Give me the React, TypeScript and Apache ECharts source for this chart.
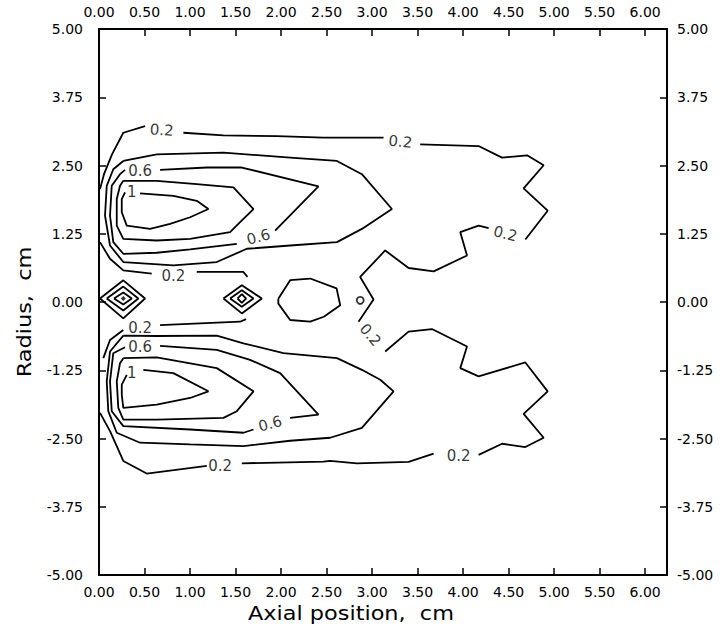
import React, { useEffect, useRef } from "react";
import * as echarts from "echarts";

// Tick labels
const X_TICKS = ["0.00", "0.50", "1.00", "1.50", "2.00", "2.50", "3.00", "3.50", "4.00", "4.50", "5.00", "5.50", "6.00"];
const Y_TICKS = ["-5.00", "-3.75", "-2.50", "-1.25", "0.00", "1.25", "2.50", "3.75", "5.00"];

// Contour level 0.2 (outer envelope), split where labels sit
const c02UpperLeft = [[0.011, 2.067], [0.055, 2.341], [0.143, 2.705], [0.267, 3.1], [0.506, 3.22]];
const c02UpperMid = [[0.927, 3.1], [1.367, 3.051], [1.954, 3.038], [2.466, 3.009], [3.126, 3.009]];
const c02UpperRight = [[3.529, 2.887], [4.17, 2.856], [4.428, 2.645], [4.703, 2.687], [4.885, 2.505], [4.665, 2.08], [4.929, 1.672], [4.684, 1.144]];
const c02Centre = [[4.281, 1.352], [4.17, 1.399], [3.969, 1.279], [4.043, 0.852], [3.676, 0.561], [3.401, 0.623], [3.144, 0.944], [2.869, 0.459], [3.016, 0.046], [2.851, -0.361]];
const c02LowerRight = [[3.144, -0.907], [3.401, -0.543], [3.658, -0.495], [4.043, -0.816], [3.969, -1.211], [4.17, -1.362], [4.684, -1.107], [4.929, -1.636], [4.665, -2.049], [4.885, -2.486], [4.684, -2.656], [4.428, -2.596], [4.17, -2.801]];
const c02LowerMid = [[3.676, -2.778], [3.401, -2.929], [2.833, -2.954], [2.54, -2.911], [2.466, -2.924], [1.569, -2.954]];
const c02LowerLeft = [[1.184, -3.002], [0.524, -3.142], [0.267, -2.911], [0.121, -2.364], [0.011, -2.031]];

// Contour level 0.2 (inner, between lobes)
const c02InnerUpA = [[0.011, 1.097], [0.121, 0.792], [0.267, 0.579], [0.579, 0.519]];
const c02InnerUpB = [[1.074, 0.55], [1.587, 0.55], [1.631, 0.459]];
const c02InnerLowA = [[0.047, -1.029], [0.121, -0.696], [0.267, -0.514]];
const c02InnerLowB = [[0.671, -0.423], [1.55, -0.361], [1.616, -0.313]];

// Upper lobe
const c04Up = [[0.267, 2.583], [0.634, 2.705], [1.367, 2.736], [2.1, 2.645], [2.614, 2.583], [2.888, 2.341], [3.218, 1.703], [2.888, 1.339], [2.614, 1.097], [2.1, 1.035], [1.624, 0.975], [1.294, 0.732], [0.817, 0.67], [0.267, 0.732], [0.121, 1.035], [0.066, 1.581], [0.085, 2.128], [0.157, 2.432], [0.267, 2.583]];
const c06UpA = [[0.671, 2.419], [1.184, 2.463], [1.569, 2.463], [2.411, 2.117], [1.935, 1.308]];
const c06UpB = [[1.514, 1.066], [1.001, 0.962], [0.634, 0.902], [0.267, 0.883], [0.157, 1.097], [0.121, 1.581], [0.14, 2.128], [0.231, 2.341], [0.286, 2.419]];
const c08Up = [[0.267, 2.219], [0.634, 2.219], [1.074, 2.158], [1.477, 2.098], [1.697, 1.703], [1.55, 1.461], [1.44, 1.279], [1.001, 1.157], [0.634, 1.126], [0.267, 1.157], [0.195, 1.399], [0.195, 1.885], [0.231, 2.128], [0.267, 2.219]];
const c10Up = [[0.451, 1.989], [0.817, 1.945], [1.074, 1.854], [1.202, 1.703], [1.001, 1.552], [0.781, 1.43], [0.561, 1.339], [0.305, 1.399], [0.25, 1.643], [0.25, 1.885], [0.286, 2.007]];

// Lower lobe
const c04Low = [[0.267, -0.616], [0.634, -0.623], [1.294, -0.616], [1.587, -0.756], [2.026, -0.938], [2.614, -1.029], [2.888, -1.242], [3.09, -1.424], [3.236, -1.636], [2.888, -2.304], [2.54, -2.486], [2.1, -2.541], [1.587, -2.638], [1.001, -2.608], [0.451, -2.577], [0.195, -2.395], [0.102, -2.0], [0.085, -1.454], [0.121, -0.907], [0.267, -0.616]];
const c06LowA = [[0.671, -0.805], [1.294, -0.878], [1.66, -1.06], [1.99, -1.302], [2.411, -2.062], [2.1, -2.122]];
const c06LowB = [[1.697, -2.335], [1.587, -2.395], [1.001, -2.335], [0.267, -2.273], [0.14, -2.0], [0.121, -1.454], [0.157, -0.938], [0.286, -0.829]];
const c08Low = [[0.267, -1.029], [0.634, -1.016], [1.294, -1.211], [1.697, -1.636], [1.514, -2.0], [1.367, -2.122], [0.634, -2.153], [0.267, -2.153], [0.212, -1.94], [0.195, -1.454], [0.231, -1.12], [0.267, -1.029]];
const c10Low = [[0.487, -1.242], [0.817, -1.302], [1.202, -1.636], [1.001, -1.758], [0.634, -1.88], [0.267, -1.94], [0.25, -1.698], [0.25, -1.515], [0.305, -1.333]];

// Small closed contours near the axis
const diamondA1 = [[0.011, 0.064], [0.267, 0.397], [0.506, 0.064], [0.267, -0.301], [0.011, 0.064]];
const diamondA2 = [[0.085, 0.064], [0.267, 0.282], [0.432, 0.064], [0.267, -0.155], [0.085, 0.064]];
const diamondA3 = [[0.165, 0.064], [0.267, 0.173], [0.36, 0.064], [0.267, -0.046], [0.165, 0.064]];
const diamondB1 = [[1.367, 0.064], [1.569, 0.306], [1.789, 0.064], [1.569, -0.209], [1.367, 0.064]];
const diamondB2 = [[1.44, 0.064], [1.569, 0.215], [1.697, 0.064], [1.569, -0.087], [1.44, 0.064]];
const diamondB3 = [[1.522, 0.064], [1.569, 0.143], [1.616, 0.064], [1.569, -0.015], [1.522, 0.064]];
const blob = [[1.97, 0.06], [2.1, 0.4], [2.32, 0.43], [2.61, 0.25], [2.65, -0.06], [2.47, -0.27], [2.32, -0.36], [2.1, -0.33], [1.97, -0.03], [1.97, 0.06]];

const peakDots = [[0.267, 0.064]];
const smallRings = [[2.87, 0.03]];

// Contour labels: [x, y, text, rotation]
const contourLabels: [number, number, string, number][] = [
  [0.689, 3.147, "0.2", -4],
  [3.31, 2.936, "0.2", -6],
  [4.464, 1.248, "0.2", -14],
  [2.98, -0.605, "0.2", -50],
  [3.951, -2.82, "0.2", 0],
  [1.33, -3.002, "0.2", 0],
  [0.817, 0.468, "0.2", 0],
  [0.451, -0.483, "0.2", 0],
  [0.451, 2.401, "0.6", 0],
  [1.752, 1.188, "0.6", 15],
  [0.451, -0.816, "0.6", 0],
  [1.88, -2.231, "0.6", 15],
  [0.36, 2.007, "1", 0],
  [0.36, -1.302, "1", 0],
];

const SEGMENTS = [
  c02UpperLeft, c02UpperMid, c02UpperRight, c02Centre, c02LowerRight, c02LowerMid, c02LowerLeft,
  c02InnerUpA, c02InnerUpB, c02InnerLowA, c02InnerLowB,
  c04Up, c06UpA, c06UpB, c08Up, c10Up,
  c04Low, c06LowA, c06LowB, c08Low, c10Low,
  diamondA1, diamondA2, diamondA3, diamondB1, diamondB2, diamondB3, blob,
];

const FONT = "DejaVu Sans";

export default function App() {
  const ref = useRef<HTMLDivElement>(null);
  useEffect(() => {
    if (!ref.current) return;
    const chart = echarts.init(ref.current, undefined, { renderer: "svg" });
    const xFmt = (v: number) => {
      const i = Math.round(v / 0.5);
      return Math.abs(v - i * 0.5) < 1e-6 && X_TICKS[i] ? X_TICKS[i] : "";
    };
    const yFmt = (v: number) => {
      const i = Math.round((v + 5) / 1.25);
      return Math.abs(v + 5 - i * 1.25) < 1e-6 && Y_TICKS[i] ? Y_TICKS[i] : "";
    };
    const xBase = {
      type: "value",
      min: 0,
      max: 6.24,
      interval: 0.5,
      axisLine: { show: true, onZero: false, lineStyle: { color: "#000", width: 2 } },
      axisTick: { show: true, inside: true, length: 7, lineStyle: { color: "#000", width: 1.5 } },
      axisLabel: { formatter: xFmt, color: "#000", fontFamily: FONT, fontSize: 14, margin: 10, showMaxLabel: false },
      splitLine: { show: false },
    };
    const yBase = {
      type: "value",
      min: -5,
      max: 5,
      interval: 1.25,
      axisLine: { show: true, onZero: false, lineStyle: { color: "#000", width: 2 } },
      axisTick: { show: true, inside: true, length: 7, lineStyle: { color: "#000", width: 1.5 } },
      splitLine: { show: false },
    };
    const lineSeries = SEGMENTS.map((seg) => ({
      type: "line",
      data: seg,
      showSymbol: false,
      symbol: "none",
      lineStyle: { color: "#000", width: 1.8 },
      silent: true,
      z: 3,
    }));
    chart.setOption({
      animation: false,
      backgroundColor: "#fff",
      grid: { left: 99, right: 55, top: 29, bottom: 57, containLabel: false },
      xAxis: [
        { ...xBase, position: "bottom" },
        { ...xBase, position: "top" },
      ],
      yAxis: [
        { ...yBase, position: "left", axisLabel: { formatter: yFmt, color: "#000", fontFamily: FONT, fontSize: 14, margin: 16 } },
        { ...yBase, position: "right", axisLabel: { formatter: yFmt, color: "#000", fontFamily: FONT, fontSize: 14, margin: 10 } },
      ],
      series: [
        ...lineSeries,
        {
          type: "scatter",
          data: peakDots,
          symbol: "diamond",
          symbolSize: 5,
          itemStyle: { color: "#000" },
          silent: true,
          z: 4,
        },
        {
          type: "scatter",
          data: smallRings,
          symbol: "circle",
          symbolSize: 7,
          itemStyle: { color: "#fff", borderColor: "#000", borderWidth: 1.8 },
          silent: true,
          z: 4,
        },
        {
          type: "scatter",
          symbolSize: 0,
          silent: true,
          z: 5,
          data: contourLabels.map(([x, y, t, r]) => ({
            value: [x, y],
            name: t,
            label: { rotate: r },
          })),
          label: {
            show: true,
            position: "inside",
            formatter: (p: any) => p.name,
            color: "#000",
            fontFamily: FONT,
            fontSize: 15,
          },
        },
      ],
      graphic: [
        {
          type: "text",
          x: 351,
          y: 613,
          scaleX: 1.12,
          style: {
            text: "Axial position,  cm",
            fill: "#000",
            fontFamily: FONT,
            fontSize: 20,
            textAlign: "center",
            textVerticalAlign: "middle",
          },
        },
        {
          type: "text",
          x: 24,
          y: 312,
          rotation: Math.PI / 2,
          scaleX: 1.12,
          style: {
            text: "Radius,  cm",
            fill: "#000",
            fontFamily: FONT,
            fontSize: 20,
            textAlign: "center",
            textVerticalAlign: "middle",
          },
        },
      ],
    });
    return () => chart.dispose();
  }, []);
  return (
    <div
      ref={ref}
      style={{ position: "absolute", left: 0, top: 0, width: 722, height: 632, background: "#fff" }}
    />
  );
}
